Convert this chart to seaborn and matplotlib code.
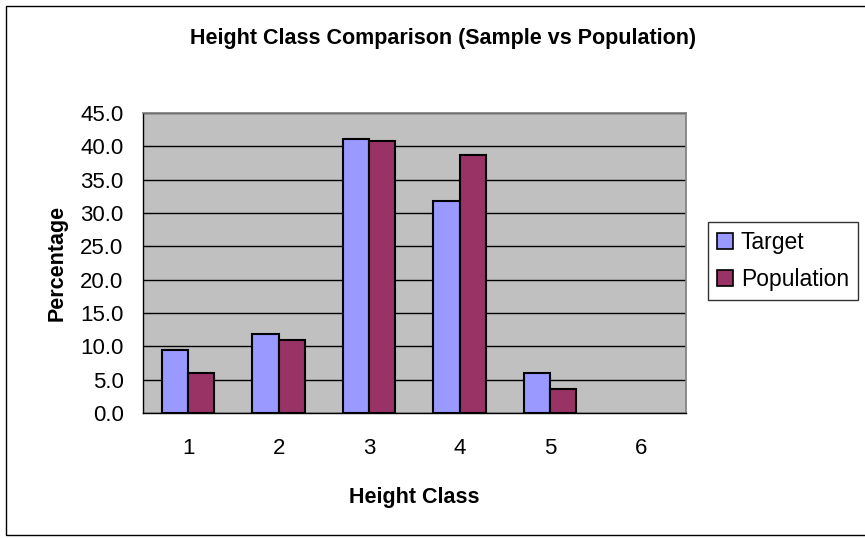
import numpy as np
import pandas as pd
import matplotlib
matplotlib.use("Agg")
import matplotlib.pyplot as plt
import seaborn as sns
from matplotlib.patches import Rectangle
from matplotlib.ticker import FormatStrFormatter

# Data
height_classes = ["1", "2", "3", "4", "5", "6"]
target = [9.4, 11.8, 41.1, 31.8, 6.0, 0.0]
population = [6.0, 10.9, 40.8, 38.7, 3.6, 0.0]

df = pd.DataFrame({
    "Height Class": height_classes * 2,
    "Percentage": target + population,
    "Series": ["Target"] * 6 + ["Population"] * 6,
})

sns.set_theme(style="white")
plt.rcParams["font.family"] = ["Liberation Sans", "DejaVu Sans"]
plt.rcParams["text.color"] = "black"
plt.rcParams["axes.labelcolor"] = "black"
plt.rcParams["xtick.color"] = "black"
plt.rcParams["ytick.color"] = "black"

fig = plt.figure(figsize=(8.65, 5.38), dpi=100)
ax = fig.add_axes([0.1653, 0.2323, 0.6277, 0.5576])

# outer chart border
fig.patches.append(Rectangle((0.007, 0.005), 1.1, 0.984, transform=fig.transFigure,
                             fill=False, edgecolor="black", linewidth=1))

sns.barplot(data=df, x="Height Class", y="Percentage", hue="Series",
            palette={"Target": "#9999FF", "Population": "#993366"},
            width=0.58, saturation=1, edgecolor="black", linewidth=1.5,
            ax=ax, legend=False)

# hide the empty bars of class 6
for p in ax.patches:
    if p.get_height() == 0:
        p.set_visible(False)

ax.set_facecolor("#C0C0C0")
ax.set_xlim(-0.5, 5.5)
ax.set_ylim(0, 45)
ax.set_yticks(np.arange(0, 46, 5))
ax.yaxis.set_major_formatter(FormatStrFormatter("%.1f"))
ax.yaxis.grid(True, color="black", linewidth=1)
ax.set_axisbelow(True)

ax.set_xticks(np.arange(-0.5, 6, 1), minor=True)
ax.tick_params(axis="x", which="major", length=0, pad=18, labelsize=16)
ax.tick_params(axis="x", which="minor", length=6, color="black", width=1, direction="out")
ax.tick_params(axis="y", length=5, color="black", width=1, direction="out", labelsize=16, pad=9)

for side in ["top", "right"]:
    ax.spines[side].set_color("#808080")
for side in ["left", "bottom"]:
    ax.spines[side].set_color("black")
    ax.spines[side].set_linewidth(1)

ax.set_xlabel("Height Class", fontsize=15.5, fontweight="bold", labelpad=20)
ax.set_ylabel("Percentage", fontsize=15.5, fontweight="bold", labelpad=9)
fig.text(0.512, 0.929, "Height Class Comparison (Sample vs Population)",
         ha="center", va="center", fontsize=15.5, fontweight="bold")

handles = [Rectangle((0, 0), 1, 1, facecolor="#9999FF", edgecolor="black", linewidth=1.2),
           Rectangle((0, 0), 1, 1, facecolor="#993366", edgecolor="black", linewidth=1.2)]
leg = fig.legend(handles, ["Target", "Population"], loc="upper left",
                 bbox_to_anchor=(0.818, 0.587), fontsize=16.5, frameon=True,
                 fancybox=False, handlelength=0.7, handleheight=0.7,
                 handletextpad=0.35, borderpad=0.4, labelspacing=0.6,
                 borderaxespad=0)
leg.get_frame().set_edgecolor("black")
leg.get_frame().set_linewidth(1)

fig.savefig("out.png", dpi=100)
